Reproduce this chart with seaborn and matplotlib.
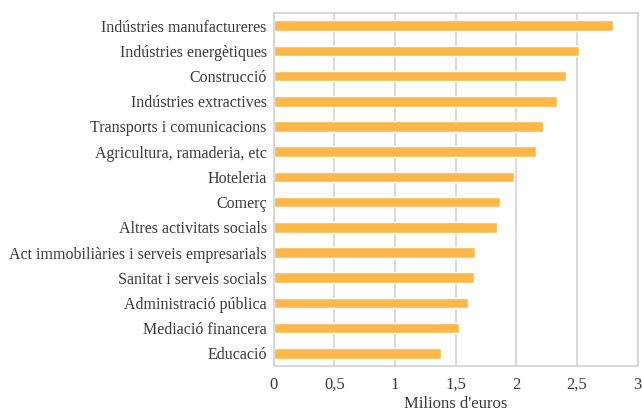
import matplotlib
matplotlib.use("Agg")
import matplotlib.pyplot as plt
import matplotlib.ticker as mticker
import seaborn as sns
import pandas as pd

sectors = [
    "Indústries manufactureres",
    "Indústries energètiques",
    "Construcció",
    "Indústries extractives",
    "Transports i comunicacions",
    "Agricultura, ramaderia, etc",
    "Hoteleria",
    "Comerç",
    "Altres activitats socials",
    "Act immobiliàries i serveis empresarials",
    "Sanitat i serveis socials",
    "Administració pública",
    "Mediació financera",
    "Educació",
]
values = [2.80, 2.52, 2.41, 2.335, 2.22, 2.16, 1.98, 1.865,
          1.84, 1.66, 1.65, 1.60, 1.53, 1.38]
x_ticks = [0, 0.5, 1, 1.5, 2, 2.5, 3]
x_label = "Milions d'euros"

df = pd.DataFrame({"sector": sectors, "value": values})

sns.set_theme(style="white")
plt.rcParams["font.family"] = ["Liberation Serif", "DejaVu Serif"]
text_color = "#3a3a3a"

fig = plt.figure(figsize=(6.42, 4.16), dpi=100)
ax = fig.add_axes([0.4263, 0.1202, 0.5670, 0.8486])

sns.barplot(data=df, x="value", y="sector", color="#FDB849", saturation=1,
            width=0.42, ax=ax, orient="h")

ax.set_xlim(0, 3)
ax.set_xticks(x_ticks)
ax.xaxis.set_major_formatter(
    mticker.FuncFormatter(lambda v, p: f"{v:g}".replace(".", ",")))
ax.grid(axis="x", color="#d0d0d0", linewidth=1.1)
ax.set_axisbelow(True)
for s in ax.spines.values():
    s.set_visible(True)
    s.set_color("#d0d0d0")
    s.set_linewidth(1.1)

ax.tick_params(axis="both", length=0, colors=text_color)
ax.tick_params(axis="y", pad=5, labelsize=11.5)
ax.tick_params(axis="x", pad=8, labelsize=12)
ax.set_ylabel("")
ax.set_xlabel(x_label, fontsize=12, color=text_color, labelpad=2)

fig.savefig("out.png", dpi=100)
